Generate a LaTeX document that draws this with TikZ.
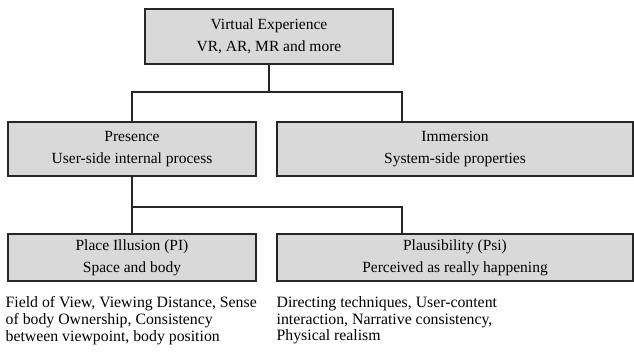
\documentclass[tikz,border=0pt]{standalone}
\usepackage{fontspec}
\setmainfont{Liberation Serif}
\usepackage{tikz}
\usepackage{xcolor}
\usetikzlibrary{positioning}
\definecolor{boxgray}{HTML}{D9D9D9}

\begin{document}
\begin{tikzpicture}[
        x=1pt, y=1pt,
        box/.style={
            draw=black!85,
            rectangle,
            fill=boxgray,
            line width=1.1pt,
            align=center,
            inner sep=0pt,
            font=\fontsize{15.5}{22}\selectfont
        },
        notes/.style={
            anchor=north west,
            align=left,
            inner sep=0pt,
            font=\fontsize{15.8}{16.6}\selectfont
        },
        link/.style={
            draw=black!85,
            line width=1.1pt
        }
    ]
        \useasboundingbox (0,0) rectangle (634,-356);
        \node (ve) [box, minimum width=248, minimum height=55] at (269,-36.5) {Virtual Experience\\VR, AR, MR and more};
        \node (pres) [box, minimum width=248, minimum height=54] at (132,-149) {Presence\\User-side internal process};
        \node (imm) [box, minimum width=356, minimum height=54] at (455,-149) {Immersion\\System-side properties};
        \node (pi) [box, minimum width=248, minimum height=47] at (132,-257.5) {Place Illusion (PI)\\Space and body};
        \node (psi) [box, minimum width=356, minimum height=47] at (455,-257.5) {Plausibility (Psi)\\Perceived as really happening};
        \node (pinotes) [notes] at ([shift={(-2,-15)}]pi.south west) {Field of View, Viewing Distance, Sense\\of body Ownership, Consistency\\between viewpoint, body position};
        \node (psinotes) [notes] at ([shift={(0,-15)}]psi.south west) {Directing techniques, User-content\\interaction, Narrative consistency,\\Physical realism};
        % connectors
        \coordinate (forkA) at (269,-92);
        \coordinate (dropA) at (402,-92);
        \coordinate (dropB) at (402,-207);
        \draw[link] (ve.south) -- (forkA);
        \draw[link] (pres.north) |- (dropA) -- (dropA |- imm.north);
        \draw[link] (pres.south) -- (pi.north);
        \draw[link] (pres.south |- dropB) -- (dropB) -- (dropB |- psi.north);
    \end{tikzpicture}
\end{document}
